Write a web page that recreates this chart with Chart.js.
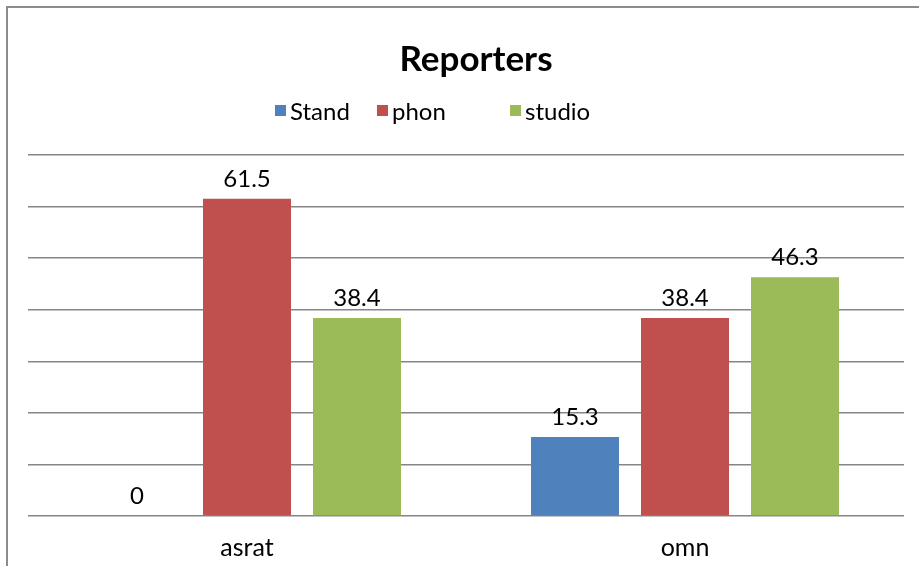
<!DOCTYPE html>
<html><head><meta charset="utf-8">
<script src="https://cdn.jsdelivr.net/npm/chart.js@4/dist/chart.umd.min.js"></script>
<style>
html,body{margin:0;padding:0;background:#fff;overflow:hidden;}
#wrap{position:relative;width:919px;height:566px;}
#frame{position:absolute;left:6px;top:6px;width:1000px;height:1000px;border:2px solid #8c8c8c;box-sizing:border-box;pointer-events:none;}
canvas{position:absolute;left:0;top:0;}
</style></head>
<body><div id="wrap"><canvas id="c" width="919" height="566"></canvas><div id="frame"></div></div>
<script>
const categories = ["asrat", "omn"];
const seriesNames = ["Stand", "phon", "studio"];
const standValues = [0, 15.3];
const phonValues = [61.5, 38.4];
const studioValues = [38.4, 46.3];
const seriesColors = ["#4F81BD", "#C0504D", "#9BBB59"];
const chartTitle = "Reporters";

const FONT = "Lato, 'Open Sans', sans-serif";

const headerPlugin = {
  id: 'header',
  afterDraw(chart) {
    const ctx = chart.ctx;
    ctx.save();
    ctx.fillStyle = '#000';
    ctx.font = "bold 35px " + FONT;
    ctx.textAlign = 'center';
    ctx.textBaseline = 'middle';
    ctx.fillText(chartTitle, 476, 60);
    // legend
    const starts = [275, 377, 510];
    ctx.font = "24px " + FONT;
    ctx.textAlign = 'left';
    chart.data.datasets.forEach((ds, i) => {
      const x = starts[i];
      ctx.fillStyle = ds.backgroundColor;
      ctx.fillRect(x, 105, 11, 11);
      ctx.fillStyle = '#000';
      ctx.fillText(ds.label, x + 15, 112);
    });
    // data labels
    ctx.font = "24px " + FONT;
    ctx.textAlign = 'center';
    chart.data.datasets.forEach((ds, i) => {
      const meta = chart.getDatasetMeta(i);
      meta.data.forEach((bar, j) => {
        ctx.fillText(String(ds.data[j]), bar.x, bar.y - 20);
      });
    });
    ctx.restore();
  }
};

new Chart(document.getElementById('c'), {
  type: 'bar',
  data: {
    labels: categories,
    datasets: [
      {label: seriesNames[0], data: standValues, backgroundColor: seriesColors[0]},
      {label: seriesNames[1], data: phonValues, backgroundColor: seriesColors[1]},
      {label: seriesNames[2], data: studioValues, backgroundColor: seriesColors[2]}
    ]
  },
  options: {
    responsive: false,
    animation: false,
    devicePixelRatio: 1,
    categoryPercentage: 0.7534,
    barPercentage: 0.8,
    layout: {padding: {left: 28, right: 15, top: 155, bottom: 4}},
    plugins: {legend: {display: false}, title: {display: false}, tooltip: {enabled: false}},
    scales: {
      x: {
        grid: {display: false},
        border: {display: false},
        ticks: {color: '#000', font: {family: FONT, size: 25}, padding: 9},
        afterFit(scale) { scale.height = 46; }
      },
      y: {
        min: 0, max: 70,
        ticks: {display: false, stepSize: 10},
        grid: {color: '#868686', lineWidth: 1.5, drawTicks: false},
        border: {display: false}
      }
    }
  },
  plugins: [headerPlugin]
});
</script></body></html>
